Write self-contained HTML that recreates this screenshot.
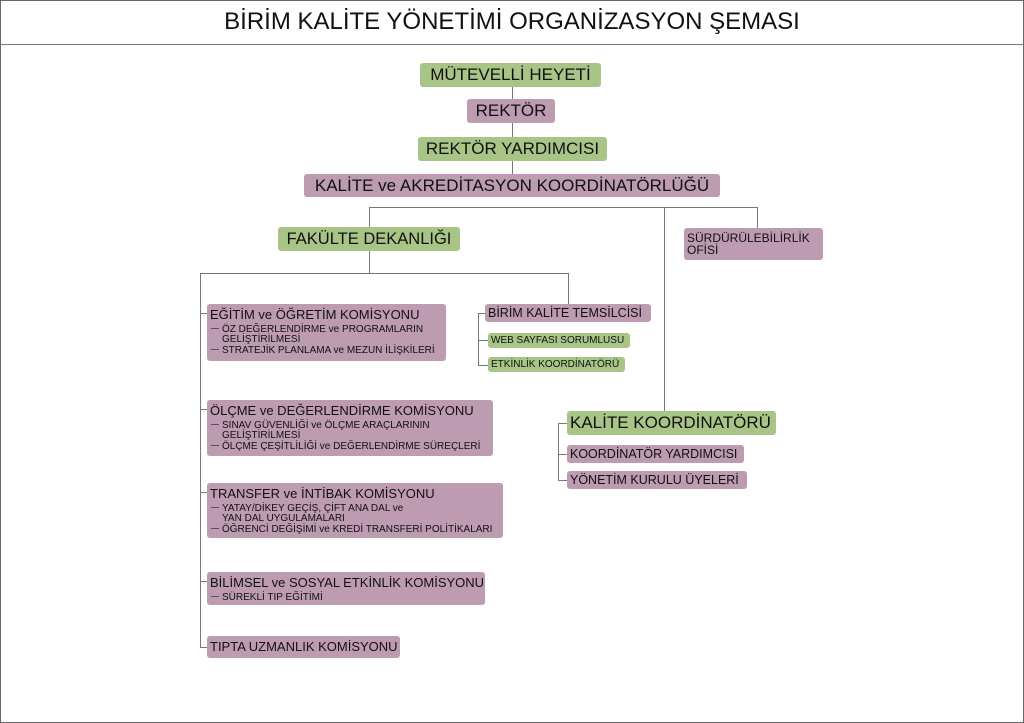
<!DOCTYPE html>
<html><head><meta charset="utf-8">
<style>
*{margin:0;padding:0;box-sizing:border-box}
body{width:1024px;height:723px;background:#fff;position:relative;overflow:hidden;font-family:"Liberation Sans",sans-serif;color:#111}
.frame{position:absolute;left:0;top:0;width:1024px;height:723px;border:1px solid #666}
.title{position:absolute;left:0;top:0;width:1024px;height:45px;border-bottom:1px solid #777;text-align:center;font-size:24px;line-height:44px}
.b{position:absolute;border-radius:3px;white-space:nowrap;overflow:hidden}
.g{background:#a8c487}
.p{background:#bd9bb0}
.c{text-align:center}
.l{position:absolute;background:#777}
.h{height:1px}
.v{width:1px}
.t{font-size:13px;line-height:15px;padding:3px 0 0 3px}
.s{font-size:10px;line-height:11px;padding-left:15px;position:relative}
.s:before{content:"";position:absolute;left:4px;top:4px;width:8px;height:1px;background:#555}
.s2{font-size:10px;line-height:10px;padding-left:15px}
</style></head><body>
<div class="frame"></div>
<div class="title">BİRİM KALİTE YÖNETİMİ ORGANİZASYON ŞEMASI</div>

<div class="l v" style="left:512px;top:87px;height:110px"></div>
<div class="l h" style="left:369px;top:207px;width:389px"></div>
<div class="l v" style="left:369px;top:207px;height:21px"></div>
<div class="l v" style="left:664px;top:207px;height:205px"></div>
<div class="l v" style="left:757px;top:207px;height:21px"></div>
<div class="l v" style="left:369px;top:251px;height:22px"></div>
<div class="l h" style="left:200px;top:273px;width:369px"></div>
<div class="l v" style="left:568px;top:273px;height:31px"></div>
<div class="l v" style="left:200px;top:273px;height:375px"></div>
<div class="l h" style="left:200px;top:313px;width:7px"></div>
<div class="l h" style="left:200px;top:409px;width:7px"></div>
<div class="l h" style="left:200px;top:492px;width:7px"></div>
<div class="l h" style="left:200px;top:581px;width:7px"></div>
<div class="l h" style="left:200px;top:647px;width:7px"></div>
<div class="l v" style="left:478px;top:313px;height:53px"></div>
<div class="l h" style="left:478px;top:313px;width:7px"></div>
<div class="l h" style="left:478px;top:340px;width:10px"></div>
<div class="l h" style="left:478px;top:365px;width:10px"></div>
<div class="l v" style="left:558px;top:423px;height:57px"></div>
<div class="l h" style="left:558px;top:423px;width:9px"></div>
<div class="l h" style="left:558px;top:454px;width:9px"></div>
<div class="l h" style="left:558px;top:480px;width:9px"></div>

<div class="b g c" style="left:420px;top:63px;width:181px;height:24px;font-size:17px;line-height:24px">MÜTEVELLİ HEYETİ</div>
<div class="b p c" style="left:467px;top:99px;width:88px;height:24px;font-size:17px;line-height:24px">REKTÖR</div>
<div class="b g c" style="left:418px;top:137px;width:189px;height:24px;font-size:17px;line-height:24px">REKTÖR YARDIMCISI</div>
<div class="b p c" style="left:304px;top:174px;width:416px;height:23px;font-size:17px;line-height:23px">KALİTE ve AKREDİTASYON KOORDİNATÖRLÜĞÜ</div>
<div class="b g c" style="left:278px;top:227px;width:182px;height:24px;font-size:16.5px;line-height:24px">FAKÜLTE DEKANLIĞI</div>
<div class="b p" style="left:684px;top:228px;width:139px;height:32px;font-size:12px;line-height:12px;padding:4px 0 0 3px">SÜRDÜRÜLEBİLİRLİK<br>OFİSİ</div>

<div class="b p" style="left:207px;top:304px;width:239px;height:57px">
<div class="t">EĞİTİM ve ÖĞRETİM KOMİSYONU</div>
<div class="s" style="margin-top:2px">ÖZ DEĞERLENDİRME ve PROGRAMLARIN</div>
<div class="s2">GELİŞTİRİLMESİ</div>
<div class="s">STRATEJİK PLANLAMA ve MEZUN İLİŞKİLERİ</div>
</div>
<div class="b p" style="left:207px;top:400px;width:286px;height:56px">
<div class="t">ÖLÇME ve DEĞERLENDİRME KOMİSYONU</div>
<div class="s" style="margin-top:2px">SINAV GÜVENLİĞİ ve ÖLÇME ARAÇLARININ</div>
<div class="s2">GELİŞTİRİLMESİ</div>
<div class="s">ÖLÇME ÇEŞİTLİLİĞİ ve DEĞERLENDİRME SÜREÇLERİ</div>
</div>
<div class="b p" style="left:207px;top:483px;width:296px;height:55px">
<div class="t">TRANSFER ve İNTİBAK KOMİSYONU</div>
<div class="s" style="margin-top:2px">YATAY/DİKEY GEÇİŞ, ÇİFT ANA DAL ve</div>
<div class="s2">YAN DAL UYGULAMALARI</div>
<div class="s">ÖĞRENCİ DEĞİŞİMİ ve KREDİ TRANSFERİ POLİTİKALARI</div>
</div>
<div class="b p" style="left:207px;top:572px;width:278px;height:33px">
<div class="t">BİLİMSEL ve SOSYAL ETKİNLİK KOMİSYONU</div>
<div class="s" style="margin-top:2px">SÜREKLİ TIP EĞİTİMİ</div>
</div>
<div class="b p" style="left:207px;top:636px;width:193px;height:22px;font-size:13px;line-height:22px;padding-left:3px">TIPTA UZMANLIK KOMİSYONU</div>

<div class="b p" style="left:485px;top:304px;width:166px;height:18px;font-size:12.5px;line-height:18px;padding-left:3px">BİRİM KALİTE TEMSİLCİSİ</div>
<div class="b g" style="left:488px;top:333px;width:142px;height:15px;font-size:10px;line-height:15px;padding-left:3px">WEB SAYFASI SORUMLUSU</div>
<div class="b g" style="left:488px;top:357px;width:137px;height:15px;font-size:10px;line-height:15px;padding-left:3px">ETKİNLİK KOORDİNATÖRÜ</div>

<div class="b g" style="left:567px;top:411px;width:209px;height:24px;font-size:17px;line-height:24px;padding-left:3px">KALİTE KOORDİNATÖRÜ</div>
<div class="b p" style="left:567px;top:445px;width:177px;height:18px;font-size:12.5px;line-height:18px;padding-left:3px">KOORDİNATÖR YARDIMCISI</div>
<div class="b p" style="left:567px;top:471px;width:180px;height:18px;font-size:12.5px;line-height:18px;padding-left:3px">YÖNETİM KURULU ÜYELERİ</div>
</body></html>
